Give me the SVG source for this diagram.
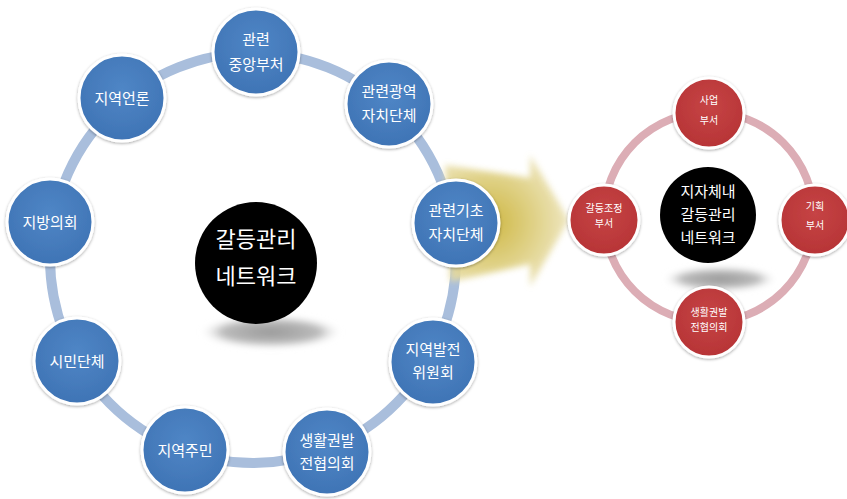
<svg xmlns="http://www.w3.org/2000/svg" width="847" height="499" viewBox="0 0 847 499">
<defs>
<style>
text{font-family:"Noto Sans CJK KR","Noto Sans",sans-serif;fill:#fff;text-anchor:middle}
.bn{fill:url(#gBlue);stroke:#fff;stroke-width:3;filter:url(#sh)}
.rn{fill:url(#gRed);stroke:#fff;stroke-width:3;filter:url(#sh)}
.bt{font-size:15px}
.rt{font-size:10px}
</style>
<radialGradient id="gBlue" cx="0.5" cy="0.4" r="0.6">
<stop offset="0" stop-color="#4f86c6"/>
<stop offset="1" stop-color="#3f74b5"/>
</radialGradient>
<radialGradient id="gRed" cx="0.5" cy="0.4" r="0.6">
<stop offset="0" stop-color="#c64445"/>
<stop offset="1" stop-color="#b73436"/>
</radialGradient>
<radialGradient id="gArrow" cx="490" cy="222" r="95" gradientUnits="userSpaceOnUse">
<stop offset="0" stop-color="#c9b030"/>
<stop offset="0.45" stop-color="#dccc78"/>
<stop offset="1" stop-color="#f4efd8"/>
</radialGradient>
<radialGradient id="gShadow" cx="0.5" cy="0.5" r="0.5">
<stop offset="0" stop-color="#999"/>
<stop offset="0.7" stop-color="#bbb"/>
<stop offset="1" stop-color="#eee" stop-opacity="0"/>
</radialGradient>
<filter id="sh" x="-20%" y="-20%" width="140%" height="140%">
<feDropShadow dx="0" dy="1" stdDeviation="1.5" flood-color="#000" flood-opacity="0.35"/>
</filter>
<filter id="blur" x="-20%" y="-20%" width="140%" height="140%">
<feGaussianBlur stdDeviation="3"/>
</filter>
</defs>
<rect width="847" height="499" fill="#fff"/>

<g id="connectors">
<ellipse cx="253" cy="258" rx="203" ry="205" fill="none" stroke="#a9bedc" stroke-width="10"/>
<circle cx="709" cy="217" r="105" fill="none" stroke="#dcadb5" stroke-width="8"/>
<path d="M445,165 L530,178 L530,155 L569,220 L530,287 L530,264 L450,282 Z" fill="url(#gArrow)" opacity="0.9" filter="url(#blur)"/>
</g>

<g id="center-left">
<ellipse cx="271" cy="332" rx="70" ry="16" fill="url(#gShadow)" filter="url(#blur)"/>
<circle cx="256" cy="263" r="61" fill="#000"/>
<text x="256" y="247" style="font-size:22px">갈등관리</text>
<text x="256" y="284" style="font-size:22px">네트워크</text>
</g>

<g id="n-central">
<circle class="bn" cx="256" cy="52" r="43"/>
<text class="bt" x="256" y="45">관련</text>
<text class="bt" x="256" y="70">중앙부처</text>
</g>
<g id="n-metro">
<circle class="bn" cx="389" cy="104" r="43"/>
<text class="bt" x="389" y="97">관련광역</text>
<text class="bt" x="389" y="121">자치단체</text>
</g>
<g id="n-basic">
<circle class="bn" cx="456" cy="223" r="43"/>
<text class="bt" x="456" y="216">관련기초</text>
<text class="bt" x="456" y="240">자치단체</text>
</g>
<g id="n-devcom">
<circle class="bn" cx="433" cy="362" r="43"/>
<text class="bt" x="433" y="355">지역발전</text>
<text class="bt" x="433" y="378">위원회</text>
</g>
<g id="n-living">
<circle class="bn" cx="327" cy="452" r="43"/>
<text class="bt" x="327" y="446">생활권발</text>
<text class="bt" x="327" y="469">전협의회</text>
</g>
<g id="n-residents">
<circle class="bn" cx="185" cy="450" r="43"/>
<text class="bt" x="185" y="456">지역주민</text>
</g>
<g id="n-civic">
<circle class="bn" cx="77" cy="361" r="43"/>
<text class="bt" x="77" y="367">시민단체</text>
</g>
<g id="n-council">
<circle class="bn" cx="50" cy="222" r="43"/>
<text class="bt" x="50" y="228">지방의회</text>
</g>
<g id="n-media">
<circle class="bn" cx="122" cy="98" r="43"/>
<text class="bt" x="122" y="104">지역언론</text>
</g>

<g id="center-right">
<ellipse cx="720" cy="279" rx="56" ry="12" fill="url(#gShadow)" filter="url(#blur)"/>
<circle cx="708" cy="215" r="48" fill="#000"/>
<text x="708" y="197" style="font-size:15px">지자체내</text>
<text x="708" y="220" style="font-size:15px">갈등관리</text>
<text x="708" y="243" style="font-size:15px">네트워크</text>
</g>

<g id="r-business">
<circle class="rn" cx="709" cy="113" r="35"/>
<text class="rt" x="709" y="104">사업</text>
<text class="rt" x="709" y="124">부서</text>
</g>
<g id="r-planning">
<circle class="rn" cx="815" cy="220" r="35"/>
<text class="rt" x="815" y="210">기획</text>
<text class="rt" x="815" y="229">부서</text>
</g>
<g id="r-living">
<circle class="rn" cx="709" cy="322" r="35"/>
<text class="rt" x="709" y="316">생활권발</text>
<text class="rt" x="709" y="331">전협의회</text>
</g>
<g id="r-conflict">
<circle class="rn" cx="604" cy="220" r="35"/>
<text class="rt" x="604" y="212">갈등조정</text>
<text class="rt" x="604" y="227">부서</text>
</g>
</svg>
